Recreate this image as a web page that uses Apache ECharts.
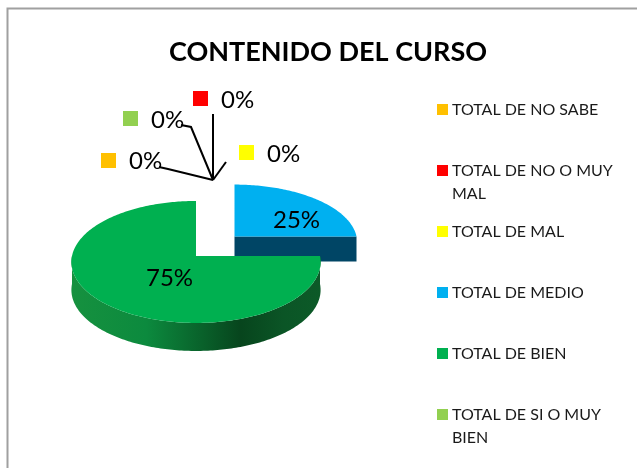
<!DOCTYPE html>
<html>
<head>
<meta charset="utf-8">
<style>
  html, body { margin: 0; padding: 0; background: #fff; }
  #chart { width: 637px; height: 468px; }
</style>
<script src="https://cdn.jsdelivr.net/npm/echarts@6/dist/echarts.min.js"></script>
</head>
<body>
<div id="chart"></div>
<script>
const chartTitle = 'CONTENIDO DEL CURSO'
const categories = ['TOTAL DE NO SABE', 'TOTAL DE NO O MUY MAL', 'TOTAL DE MAL', 'TOTAL DE MEDIO', 'TOTAL DE BIEN', 'TOTAL DE SI O MUY BIEN']
const legendLines = [['TOTAL DE NO SABE'], ['TOTAL DE NO O MUY', 'MAL'], ['TOTAL DE MAL'], ['TOTAL DE MEDIO'], ['TOTAL DE BIEN'], ['TOTAL DE SI O MUY', 'BIEN']]
const values = [0, 0, 0, 25, 75, 0]
const colors = ['#FFC000', '#FF0000', '#FFFF00', '#00B0F0', '#00B050', '#92D050']

const fontName = 'Lato, "Open Sans", sans-serif'
const total = values.reduce((a, b) => a + b, 0)

// pie drawing: each slice is pulled out to its own apex
const sliceLayout = [
  null, null, null,
  { ax: 234.5, ay: 236.5, rx: 122, ry: 57, depth: 25 },
  { ax: 196, ay: 256, rx: 124, ry: 60.4, depth: 28 },
  null
]
const perspective = 0.098
// data labels: key square, text and leader line
const labelLayout = [
  { key: [101, 153], text: [129, 161], leader: [[159, 167], [168, 169], [213, 180]] },
  { key: [193, 91], text: [221, 100], leader: [[213, 114], [213, 180]] },
  { key: [239, 145], text: [267, 154], leader: [[226, 162], [213, 180]] },
  { text: [273, 220] },
  { text: [146, 278] },
  { key: [123, 111], text: [151, 120], leader: [[181, 125], [191, 127], [213, 180]] }
]

function rimPoint(s, deg) {
  const t = deg * Math.PI / 180
  const w = 1 - perspective * Math.sin(t)
  return [s.ax + s.rx * Math.cos(t) / w, s.ay + s.ry * Math.sin(t) / w]
}

function arcPoints(s, from, to) {
  const pts = []
  for (let d = from; d <= to; d += 1) pts.push(rimPoint(s, d))
  return pts
}

function startAngle(idx) {
  let sum = 0
  for (let i = 0; i < idx; i++) sum += values[i]
  return -90 + sum / total * 360
}

function sliceShapes(idx, value) {
  const s = sliceLayout[idx]
  if (!s || !value) return []
  const from = startAngle(idx)
  const to = from + value / total * 360
  const top = [[s.ax, s.ay]].concat(arcPoints(s, from, to))
  const out = []
  // side wall of the rim that faces the viewer
  const a = Math.max(from, 0)
  const b = Math.min(to, 180)
  if (b > a && to > 90) {
    const rim = arcPoints(s, a, b)
    const low = rim.map(p => [p[0], p[1] + s.depth]).reverse()
    out.push({
      type: 'polygon',
      shape: { points: rim.concat(low) },
      style: {
        fill: new echarts.graphic.LinearGradient(0, 0, 1, 0, [
          { offset: 0, color: '#16913f' },
          { offset: 0.3, color: '#0c8a3e' },
          { offset: 0.68, color: '#07451d' },
          { offset: 0.85, color: '#0b5526' },
          { offset: 1, color: '#0c5a28' }
        ])
      }
    })
  } else {
    // cut face of the pulled out slice
    out.push({
      type: 'polygon',
      shape: { points: [[s.ax, s.ay], rimPoint(s, to), [rimPoint(s, to)[0], s.ay + s.depth], [s.ax, s.ay + s.depth]] },
      style: { fill: '#004565' }
    })
  }
  out.push({ type: 'polygon', shape: { points: top }, style: { fill: colors[idx] } })
  return out
}

function labelShapes(idx, value) {
  const l = labelLayout[idx]
  const out = []
  if (l.leader) {
    out.push({ type: 'polyline', shape: { points: l.leader }, style: { fill: null, stroke: '#000', lineWidth: 2 } })
  }
  if (l.key) {
    out.push({ type: 'rect', shape: { x: l.key[0], y: l.key[1], width: 15, height: 15 }, style: { fill: colors[idx] } })
  }
  out.push({
    type: 'text',
    style: {
      x: l.text[0], y: l.text[1],
      text: Math.round(value / total * 100) + '%',
      fill: '#000',
      font: '24px ' + fontName,
      textAlign: 'left',
      textVerticalAlign: 'middle'
    }
  })
  return out
}

const legendCenters = [109.5, 170.5, 231.5, 292.5, 353.5, 414.5]

const option = {
  animation: false,
  backgroundColor: '#fff',
  title: {
    text: chartTitle,
    left: 323,
    top: 34,
    textAlign: 'center',
    textStyle: { fontFamily: fontName, fontSize: 27, fontWeight: 'bold', color: '#000' }
  },
  legend: categories.map((name, i) => ({
    data: [name],
    left: 437,
    top: legendCenters[i] - 11.5 * (legendLines[i].length === 1 ? 1 : 3),
    padding: 0,
    itemWidth: 11,
    itemHeight: 11,
    itemGap: 0,
    icon: 'rect',
    selectedMode: false,
    // empty first line keeps the key level with the first text line
    formatter: () => legendLines[i].length === 1 ? legendLines[i][0] : ' \n' + legendLines[i].join('\n'),
    textStyle: { fontFamily: fontName, fontSize: 16, lineHeight: 23, color: '#1a1a1a', padding: [0, 0, 0, -1] }
  })),
  graphic: [
    { type: 'polyline', silent: true, shape: { points: [[7.5, 468], [7.5, 8.5], [637, 8.5]] }, style: { fill: null, stroke: '#a0a0a0', lineWidth: 2 } }
  ],
  series: categories.map((name, i) => ({
    type: 'custom',
    name: name,
    coordinateSystem: 'none',
    itemStyle: { color: colors[i] },
    data: [values[i]],
    z: i === 4 ? 3 : 2,
    renderItem: (params, api) => ({
      type: 'group',
      children: sliceShapes(i, api.value(0))
    })
  })).concat(categories.map((name, i) => ({
    type: 'custom',
    coordinateSystem: 'none',
    data: [values[i]],
    z: 5,
    renderItem: (params, api) => ({
      type: 'group',
      children: labelShapes(i, api.value(0))
    })
  })))
}

const chart = echarts.init(document.getElementById('chart'))
chart.setOption(option)
</script>
</body>
</html>
